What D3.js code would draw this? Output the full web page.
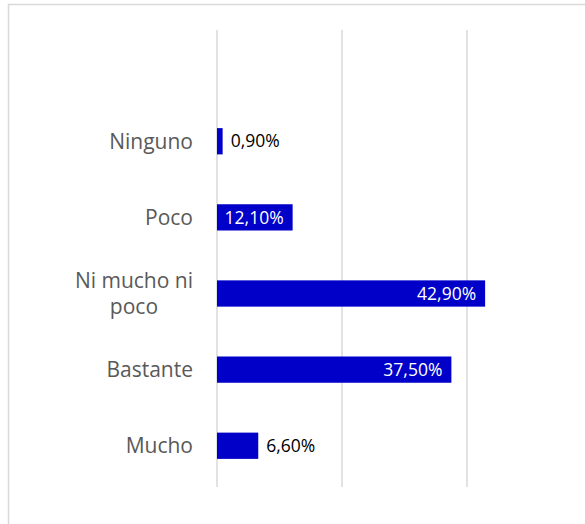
<!DOCTYPE html>
<html>
<head>
<meta charset="utf-8">
<script src="https://cdn.jsdelivr.net/npm/d3@7"></script>
<style>
  body { margin: 0; background: #fff; }
  svg { display: block; }
</style>
</head>
<body>
<svg width="585" height="524"></svg>
<script>
// categorias (de arriba a abajo) y porcentajes
var categories = ["Ninguno", "Poco", "Ni mucho ni poco", "Bastante", "Mucho"];
var catLines = [["Ninguno"], ["Poco"], ["Ni mucho ni", "poco"], ["Bastante"], ["Mucho"]];
var values = [0.9, 12.1, 42.9, 37.5, 6.6];
var valueLabels = ["0,90%", "12,10%", "42,90%", "37,50%", "6,60%"];
var gridTicks = [0, 20, 40];

var svg = d3.select("svg");
var fontFam = "'Open Sans', 'Liberation Sans', sans-serif";

// marco del grafico (se sale del recorte por la derecha y abajo)
svg.append("rect")
    .attr("x", 8.5).attr("y", 4.5)
    .attr("width", 600).attr("height", 540)
    .attr("fill", "none")
    .attr("stroke", "#d9d9d9")
    .attr("stroke-width", 1.5);

var x = d3.scaleLinear().domain([0, 40]).range([217, 467]);
var y = d3.scaleBand().domain(categories).range([103, 484]).paddingInner(0.655).paddingOuter(0.33);

// lineas de cuadricula
svg.append("g").selectAll("line")
    .data(gridTicks)
    .enter().append("line")
      .attr("x1", function(d) { return x(d); })
      .attr("x2", function(d) { return x(d); })
      .attr("y1", 30)
      .attr("y2", 487)
      .attr("stroke", "#d9d9d9")
      .attr("stroke-width", 1.5);

// barras
svg.append("g").selectAll("rect")
    .data(categories)
    .enter().append("rect")
      .attr("x", x(0))
      .attr("y", function(d) { return y(d); })
      .attr("width", function(d, i) { return x(values[i]) - x(0); })
      .attr("height", y.bandwidth())
      .attr("fill", "#0000c8");

// etiquetas de valor: dentro si la barra es larga, fuera si no
svg.append("g").selectAll("text")
    .data(categories)
    .enter().append("text")
      .attr("x", function(d, i) {
        return values[i] > 10 ? x(values[i]) - 9 : x(values[i]) + 8;
      })
      .attr("y", function(d) { return y(d) + y.bandwidth() / 2; })
      .attr("dy", "0.35em")
      .attr("text-anchor", function(d, i) { return values[i] > 10 ? "end" : "start"; })
      .attr("fill", function(d, i) { return values[i] > 10 ? "#ffffff" : "#000000"; })
      .style("font-family", fontFam)
      .style("font-size", "17.5px")
      .text(function(d, i) { return valueLabels[i]; });

// etiquetas de categoria
var lineH = 26;
var cat = svg.append("g").selectAll("text")
    .data(categories)
    .enter().append("text")
      .attr("text-anchor", "middle")
      .attr("fill", "#595959")
      .style("font-family", fontFam)
      .style("font-size", "21px");

cat.each(function(d, i) {
  var t = d3.select(this);
  var lines = catLines[i];
  var cy = y(d) + y.bandwidth() / 2 - (lines.length - 1) * lineH / 2;
  lines.forEach(function(l, k) {
    t.append("tspan")
      .attr("x", 0)
      .attr("y", cy + k * lineH)
      .attr("dy", "0.35em")
      .text(l);
  });
  // ancho de la linea mas larga, alineado a la derecha en 193
  var w = this.getBBox().width;
  t.selectAll("tspan").attr("x", 193 - w / 2);
});
</script>
</body>
</html>
